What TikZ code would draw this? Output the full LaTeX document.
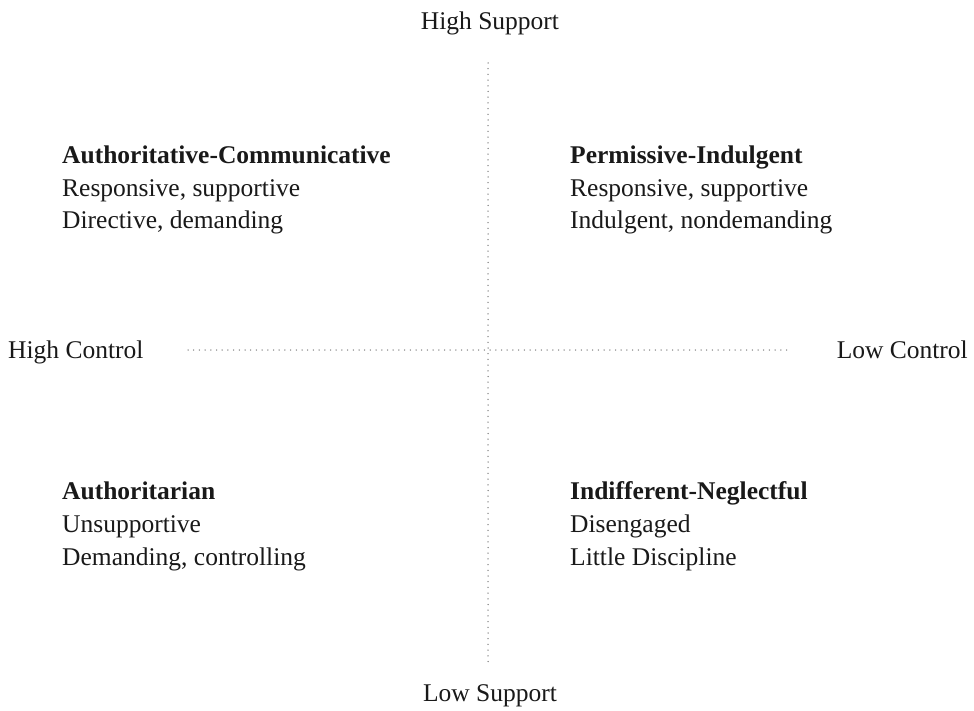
\documentclass[tikz,border=0pt]{standalone}
\usepackage{fontspec}
\setmainfont{Liberation Serif}
\usepackage{xcolor}
\usepackage{tikz}
\usetikzlibrary{positioning}

\begin{document}
\begin{tikzpicture}[x=1pt, y=-1pt,
    every node/.style={font=\fontsize{25.5}{32.8}\selectfont, text=black!90, inner sep=0pt},
    axis/.style={anchor=base},
    quad/.style={anchor=base west, align=left},
    guide/.style={black!50, line width=1.5pt, line cap=round, dash pattern=on 0pt off 5.7pt}]
   \useasboundingbox (0,0) rectangle (974,711);
    % Axis ends
    \coordinate (top) at (488,63);
    \coordinate (bottom) at (488,663);
    \coordinate (left) at (188,350);
    \coordinate (right) at (790,350);
    % Axes
    \draw[guide] (top) -- (bottom);
    \draw[guide] (left) -- (right);
    \node[axis] (hisup) at (490,30) {High Support};
    \node[axis] (losup) at (490,701) {Low Support};
    \node[anchor=base west] (hictl) at (8,358) {High Control};
    \node[anchor=base east] (loctl) at (968,358) {Low Control};
    
    % Quadrants (anchored on the last line)
    \node[quad] (authcomm) at (62,229) {\textbf{Authoritative-Communicative}\\Responsive, supportive\\Directive, demanding};
    \node[quad] (perm) at (570,229) {\textbf{Permissive-Indulgent}\\Responsive, supportive\\Indulgent, nondemanding};
    \node[quad] (authtar) at (62,565) {\textbf{Authoritarian}\\Unsupportive\\Demanding, controlling};
    \node[quad] (indiff) at (570,565) {\textbf{Indifferent-Neglectful}\\Disengaged\\Little Discipline};
\end{tikzpicture}
\end{document}
